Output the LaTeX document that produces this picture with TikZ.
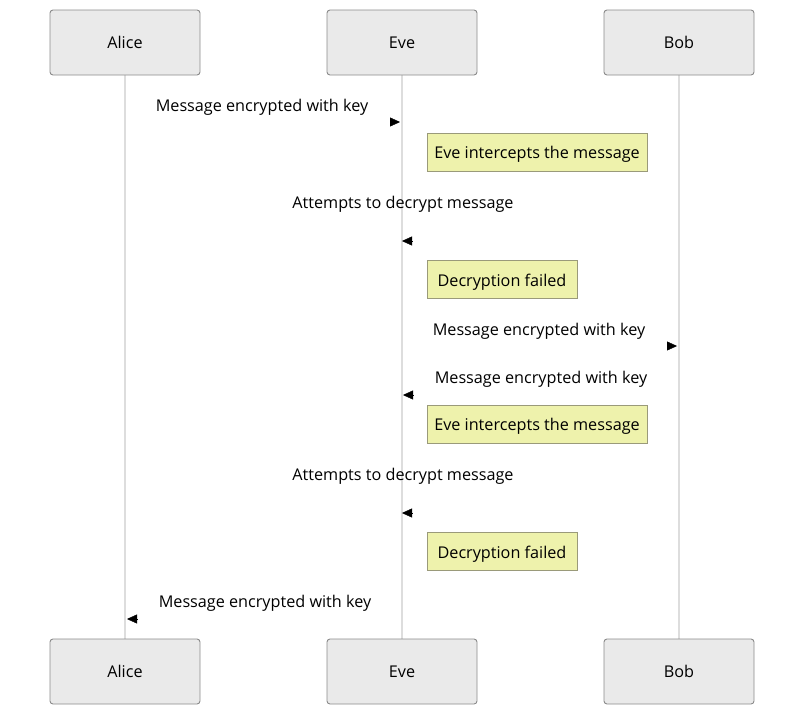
\documentclass[tikz,border=0pt]{standalone}
\usepackage{fontspec}
\setmainfont{Open Sans}
\usepackage{xcolor}
\usetikzlibrary{positioning, calc, arrows.meta}

\definecolor{actorfill}{HTML}{EAEAEA}
\definecolor{actorline}{HTML}{8A8A8A}
\definecolor{lifeline}{HTML}{DDDDDD}
\definecolor{notefill}{HTML}{EEF2AC}
\definecolor{noteline}{HTML}{9A9A7A}

\tikzset{
  actor/.style={draw=actorline, fill=actorfill, rounded corners=3pt, line width=0.9pt,
    minimum width=150pt, minimum height=65pt, text height=11pt, text depth=0pt,
    font=\fontsize{16.2}{19}\selectfont},
  notebox/.style={draw=noteline, fill=notefill, line width=0.9pt, minimum height=38pt,
    inner xsep=7pt, text height=13pt, text depth=0pt, font=\fontsize{16.2}{19}\selectfont},
  msglabel/.style={font=\fontsize{16.2}{19}\selectfont},
  msghead/.style={-{Triangle[length=10pt,width=9pt]}, black}
}

\begin{document}
\begin{tikzpicture}[x=1pt, y=-1pt]
  \useasboundingbox (0,0) rectangle (804,715);
  % Lifelines
  \draw[lifeline, line width=1.3pt] (125,75) -- (125,639);
  \draw[lifeline, line width=1.3pt] (402,75) -- (402,639);
  \draw[lifeline, line width=1.3pt] (679,75) -- (679,639);
  % Actors, top and bottom
  \node[actor] (aliceTop) at (125,42.5) {Alice};
  \node[actor] (eveTop) at (402,42.5) {Eve};
  \node[actor] (bobTop) at (679,42.5) {Bob};
  \node[actor] (aliceBot) at (125,671.5) {Alice};
  \node[actor] (eveBot) at (402,671.5) {Eve};
  \node[actor] (bobBot) at (679,671.5) {Bob};
  % Notes
  \node[notebox, minimum width=220pt] (note1) at (537,152) {Eve intercepts the message};
  \node[notebox, minimum width=150pt] (note2) at (502,279.5) {Decryption failed};
  \node[notebox, minimum width=220pt] (note3) at (537,424) {Eve intercepts the message};
  \node[notebox, minimum width=150pt] (note4) at (502,551.5) {Decryption failed};
  % Message labels
  \node[msglabel] (lab1) at (262,107) {Message encrypted with key};
  \node[msglabel] (lab2) at (403,204) {Attempts to decrypt message};
  \node[msglabel] (lab3) at (539,331) {Message encrypted with key};
  \node[msglabel] (lab4) at (541,379) {Message encrypted with key};
  \node[msglabel] (lab5) at (403,476) {Attempts to decrypt message};
  \node[msglabel] (lab6) at (265,603) {Message encrypted with key};
  % Arrow heads
  \coordinate (tip1) at (400,122);  \coordinate (from1) at (390,122);
  \coordinate (tip2) at (402,241);  \coordinate (from2) at (412,241);
  \coordinate (tip3) at (677,346);  \coordinate (from3) at (667,346);
  \coordinate (tip4) at (403,395);  \coordinate (from4) at (413,395);
  \coordinate (tip5) at (402,513);  \coordinate (from5) at (412,513);
  \coordinate (tip6) at (127,619);  \coordinate (from6) at (137,619);
  \foreach \i in {1,...,6}
    \draw[msghead] (from\i) -- (tip\i);
\end{tikzpicture}
\end{document}
